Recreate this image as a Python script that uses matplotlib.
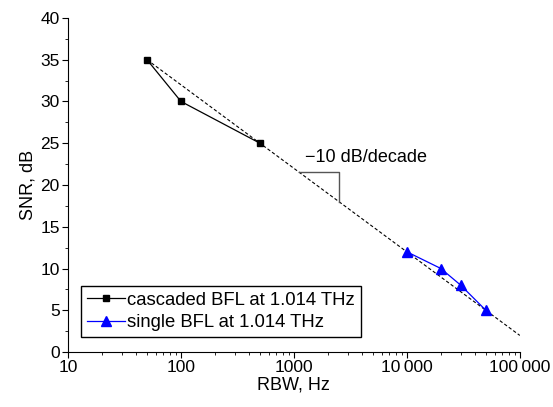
import matplotlib.pyplot as plt
import numpy as np
from matplotlib.ticker import FixedLocator, LogLocator, MultipleLocator, NullFormatter

plt.rcParams["font.family"] = ["Liberation Sans", "DejaVu Sans"]

# measured data
cascaded_rbw = [50, 100, 500]
cascaded_snr = [35, 30, 25]
single_rbw = [10000, 20000, 30000, 50000]
single_snr = [12, 10, 8, 5]

# -10 dB/decade guide line
guide_rbw = [50, 100000]
guide_snr = [35, 35 - 10 * np.log10(100000 / 50)]

# slope triangle
tri_rbw = [1100, 2500, 2500]
tri_snr = [35 - 10 * np.log10(1100 / 50), 35 - 10 * np.log10(1100 / 50),
           35 - 10 * np.log10(2500 / 50)]

x_ticks = [10, 100, 1000, 10000, 100000]
x_labels = ["10", "100", "1000", "10\u2009000", "100\u2009000"]

FS = 13

fig = plt.figure(figsize=(5.53, 4.07), dpi=100)
ax = fig.add_axes([0.123, 0.135, 0.817, 0.821])

ax.plot(guide_rbw, guide_snr, color="black", linestyle=(0, (3, 2)), linewidth=0.8, zorder=1)
ax.plot(tri_rbw, tri_snr, color="#555555", linewidth=1.0, zorder=1)
ax.plot(cascaded_rbw, cascaded_snr, color="black", linewidth=0.9, marker="s",
        markersize=5, label="cascaded BFL at 1.014 THz", zorder=3)
ax.plot(single_rbw, single_snr, color="blue", linewidth=0.9, marker="^",
        markersize=6.5, label="single BFL at 1.014 THz", zorder=3)

ax.text(1250, 22.8, "\u221210 dB/decade", fontsize=FS)

ax.set_xscale("log")
ax.set_xlim(10, 100000)
ax.set_ylim(0, 40)
ax.xaxis.set_major_locator(FixedLocator(x_ticks))
ax.set_xticklabels(x_labels)
ax.xaxis.set_minor_locator(LogLocator(base=10, subs=np.arange(2, 10)))
ax.xaxis.set_minor_formatter(NullFormatter())
ax.yaxis.set_major_locator(MultipleLocator(5))
ax.yaxis.set_minor_locator(MultipleLocator(2.5))

for side in ("top", "right"):
    ax.spines[side].set_visible(False)
ax.tick_params(which="both", direction="out", labelsize=12.5)
ax.tick_params(which="major", length=4, pad=2)
ax.tick_params(which="minor", length=2)

ax.set_xlabel("RBW, Hz", fontsize=FS, labelpad=1)
ax.set_ylabel("SNR, dB", fontsize=FS, labelpad=3)

ax.legend(loc="lower left", bbox_to_anchor=(0.029, 0.045), fontsize=13.3, frameon=True,
          fancybox=False, edgecolor="black", framealpha=1, handlelength=2.1,
          handletextpad=0.1, borderpad=0.3, labelspacing=0.3, borderaxespad=0.0)

fig.savefig("out.png", dpi=100)
